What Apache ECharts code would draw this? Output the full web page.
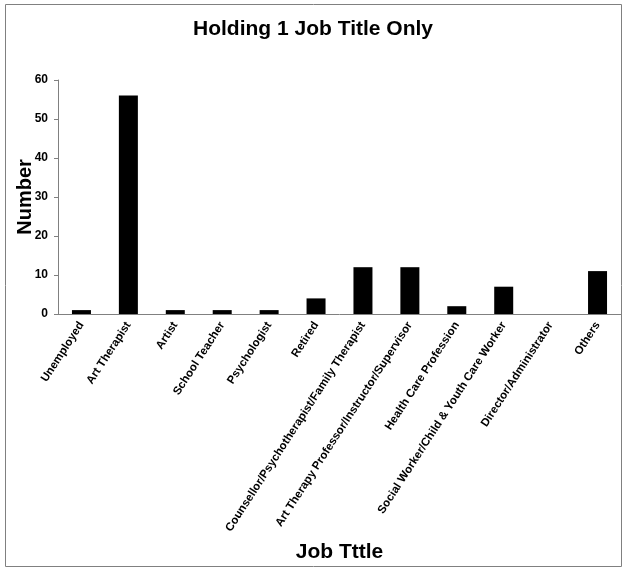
<!DOCTYPE html>
<html>
<head>
<meta charset="utf-8">
<script src="https://cdn.jsdelivr.net/npm/echarts@6/dist/echarts.min.js"></script>
<style>
  html, body { margin: 0; padding: 0; background: #fff; }
  #chart { width: 626px; height: 571px; }
</style>
</head>
<body>
<div id="chart"></div>
<script>
// job titles and counts
var jobTitles = ['Unemployed', 'Art Therapist', 'Artist', 'School Teacher', 'Psychologist', 'Retired',
    'Counsellor/Psychotherapist/Family Therapist', 'Art Therapy Professor/Instructor/Supervisor',
    'Health Care Profession', 'Social Worker/Child & Youth Care Worker', 'Director/Administrator', 'Others'];
var counts = [1, 56, 1, 1, 1, 4, 12, 12, 2, 7, 0, 11];

var chart = echarts.init(document.getElementById('chart'));

var option = {
    animation: false,
    textStyle: { fontFamily: 'Liberation Sans, Arial, sans-serif' },

    // outer frame
    graphic: [{
        type: 'rect',
        shape: { x: 5.5, y: 4.5, width: 616, height: 562 },
        style: { fill: 'none', stroke: '#808080', lineWidth: 1 },
        silent: true
    }],

    title: {
        text: 'Holding 1 Job Title Only',
        left: 'center',
        top: 14,
        textStyle: { fontSize: 21, fontWeight: 'bold', color: '#000' }
    },

    grid: { left: 58, right: 5, top: 80, bottom: 257, outerBoundsMode: 'none' },

    xAxis: {
        type: 'category',
        data: jobTitles,
        name: 'Job Tttle',
        nameLocation: 'middle',
        nameGap: 228,
        nameMoveOverlap: false,
        nameTextStyle: { fontSize: 21, fontWeight: 'bold', color: '#000' },
        axisLine: { lineStyle: { color: '#808080', width: 1 } },
        axisTick: { alignWithLabel: false, length: 5, lineStyle: { color: '#808080' } },
        axisLabel: {
            rotate: 57,
            interval: 0,
            fontSize: 11.5,
            fontWeight: 'bold',
            color: '#000',
            margin: 9
        }
    },

    yAxis: {
        type: 'value',
        min: 0,
        max: 60,
        interval: 10,
        name: 'Number',
        nameLocation: 'middle',
        nameRotate: 90,
        nameGap: 23,
        nameMoveOverlap: false,
        nameTextStyle: { fontSize: 20, fontWeight: 'bold', color: '#000' },
        splitLine: { show: false },
        axisLine: { show: true, lineStyle: { color: '#808080', width: 1 } },
        axisTick: { show: true, length: 4, lineStyle: { color: '#808080' } },
        axisLabel: { fontSize: 12, fontWeight: 'bold', color: '#000', margin: 10 }
    },

    series: [{
        name: 'Number',
        type: 'bar',
        data: counts,
        barWidth: 19,
        itemStyle: { color: '#000', borderColor: '#000', borderWidth: 0 }
    }]
};

chart.setOption(option);
</script>
</body>
</html>
